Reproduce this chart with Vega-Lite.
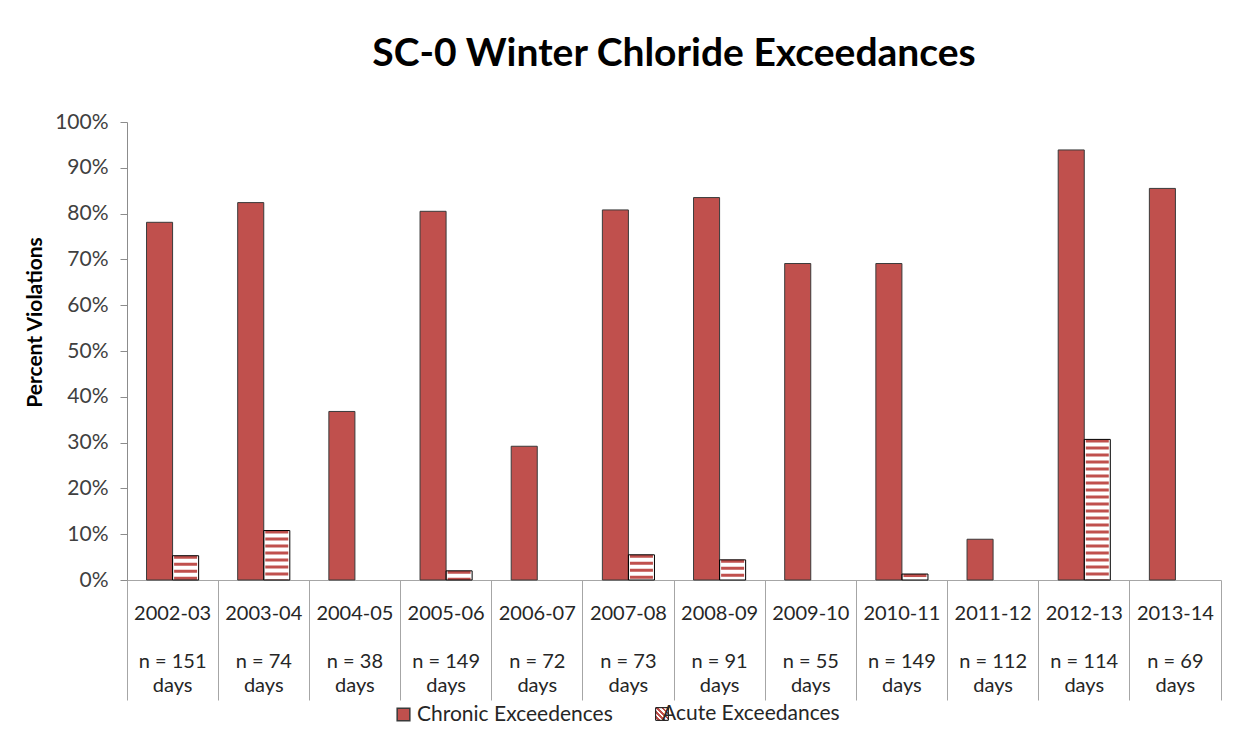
{
  "$schema": "https://vega.github.io/schema/vega-lite/v6.json",
  "width": 1094,
  "height": 458,
  "autosize": {"type": "none"},
  "padding": {"left": 127, "top": 122, "right": 26, "bottom": 167},
  "background": "white",
  "config": {"view": {"stroke": null}, "font": "Lato"},
  "title": {"text": "SC-0 Winter Chloride Exceedances", "font": "Lato", "fontSize": 39, "fontWeight": "bold", "color": "#000000", "anchor": "middle", "offset": 37},
  "data": {
    "values": [
      {"category": "2002-03|\u200b|n = 151|days", "type": "Chronic Exceedences", "value": 0.781},
      {"category": "2002-03|\u200b|n = 151|days", "type": "Acute Exceedances", "value": 0.053},
      {"category": "2003-04|\u200b|n = 74|days", "type": "Chronic Exceedences", "value": 0.824},
      {"category": "2003-04|\u200b|n = 74|days", "type": "Acute Exceedances", "value": 0.108},
      {"category": "2004-05|\u200b|n = 38|days", "type": "Chronic Exceedences", "value": 0.368},
      {"category": "2005-06|\u200b|n = 149|days", "type": "Chronic Exceedences", "value": 0.805},
      {"category": "2005-06|\u200b|n = 149|days", "type": "Acute Exceedances", "value": 0.020},
      {"category": "2006-07|\u200b|n = 72|days", "type": "Chronic Exceedences", "value": 0.292},
      {"category": "2007-08|\u200b|n = 73|days", "type": "Chronic Exceedences", "value": 0.808},
      {"category": "2007-08|\u200b|n = 73|days", "type": "Acute Exceedances", "value": 0.055},
      {"category": "2008-09|\u200b|n = 91|days", "type": "Chronic Exceedences", "value": 0.835},
      {"category": "2008-09|\u200b|n = 91|days", "type": "Acute Exceedances", "value": 0.044},
      {"category": "2009-10|\u200b|n = 55|days", "type": "Chronic Exceedences", "value": 0.691},
      {"category": "2010-11|\u200b|n = 149|days", "type": "Chronic Exceedences", "value": 0.691},
      {"category": "2010-11|\u200b|n = 149|days", "type": "Acute Exceedances", "value": 0.013},
      {"category": "2011-12|\u200b|n = 112|days", "type": "Chronic Exceedences", "value": 0.089},
      {"category": "2012-13|\u200b|n = 114|days", "type": "Chronic Exceedences", "value": 0.939},
      {"category": "2012-13|\u200b|n = 114|days", "type": "Acute Exceedances", "value": 0.307},
      {"category": "2013-14|\u200b|n = 69|days", "type": "Chronic Exceedences", "value": 0.855}
    ]
  },
  "encoding": {
    "x": {
      "field": "category", "type": "nominal", "title": null,
      "scale": {
        "domain": ["2002-03|\u200b|n = 151|days", "2003-04|\u200b|n = 74|days", "2004-05|\u200b|n = 38|days", "2005-06|\u200b|n = 149|days", "2006-07|\u200b|n = 72|days", "2007-08|\u200b|n = 73|days", "2008-09|\u200b|n = 91|days", "2009-10|\u200b|n = 55|days", "2010-11|\u200b|n = 149|days", "2011-12|\u200b|n = 112|days", "2012-13|\u200b|n = 114|days", "2013-14|\u200b|n = 69|days"],
        "paddingInner": 0, "paddingOuter": 0
      },
      "axis": {
        "labelExpr": "split(datum.label, '|')",
        "labelAngle": 0, "labelOverlap": false, "labelLimit": 0,
        "bandPosition": 1, "tickExtra": true,
        "tickSize": 120, "tickColor": "#a6a6a6", "domainColor": "#a6a6a6",
        "labelPadding": -97, "labelBaseline": "top", "labelLineHeight": 24,
        "labelFont": "Lato", "labelFontSize": 20, "labelColor": "#262626"
      }
    },
    "xOffset": {"field": "type", "type": "nominal", "scale": {"domain": ["Chronic Exceedences", "Acute Exceedances"], "paddingInner": 0, "paddingOuter": 0.75}},
    "y": {
      "field": "value", "type": "quantitative", "scale": {"domain": [0, 1]},
      "axis": {
        "title": "Percent Violations",
        "values": [0, 0.1, 0.2, 0.3, 0.4, 0.5, 0.6, 0.7, 0.8, 0.9, 1],
        "format": ".0%", "grid": false,
        "domainColor": "#8c8c8c", "tickColor": "#8c8c8c", "tickSize": 7,
        "labelFont": "Lato", "labelFontSize": 21, "labelColor": "#404040", "labelPadding": 12,
        "titleFont": "Lato", "titleFontSize": 21, "titleFontWeight": "bold", "titleColor": "#000000",
        "titleX": -92, "titleY": 200, "titleAngle": -90, "titleBaseline": "middle", "titleAlign": "center"
      }
    }
  },
  "layer": [
    {
      "transform": [{"filter": "datum.type === 'Acute Exceedances'"}],
      "mark": {"type": "rule", "color": "#C0504D", "strokeWidth": 23, "strokeDash": [3, 4]},
      "encoding": {
        "y2": {"datum": 0}
      }
    },
    {
      "transform": [{"filter": "datum.type === 'Chronic Exceedences'"}],
      "mark": {"type": "bar"},
      "encoding": {
        "fill": {"value": "#C0504D"},
        "strokeWidth": {"value": 1},
        "stroke": {
          "field": "type", "type": "nominal",
          "scale": {"domain": ["Chronic Exceedences"], "range": ["#3a3a3a"]},
          "legend": {
            "orient": "none", "legendX": 266, "legendY": 582, "title": null,
            "symbolType": "square", "symbolSize": 160, "labelFont": "Lato", "labelFontSize": 21,
            "labelColor": "#262626", "labelOffset": 3, "labelLimit": 400, "symbolOpacity": 1
          }
        }
      }
    },
    {
      "transform": [{"filter": "datum.type === 'Acute Exceedances'"}],
      "mark": {"type": "bar"},
      "encoding": {
        "fill": {
          "condition": {"test": "true", "value": "transparent"},
          "value": {"gradient": "linear", "x1": 0, "y1": 1, "x2": 1, "y2": 0, "stops": [
            {"offset": 0, "color": "#ffffff"}, {"offset": 0.1, "color": "#ffffff"}, {"offset": 0.1, "color": "#C0504D"}, {"offset": 0.2, "color": "#C0504D"},
            {"offset": 0.2, "color": "#ffffff"}, {"offset": 0.3, "color": "#ffffff"}, {"offset": 0.3, "color": "#C0504D"}, {"offset": 0.4, "color": "#C0504D"},
            {"offset": 0.4, "color": "#ffffff"}, {"offset": 0.5, "color": "#ffffff"}, {"offset": 0.5, "color": "#C0504D"}, {"offset": 0.6, "color": "#C0504D"},
            {"offset": 0.6, "color": "#ffffff"}, {"offset": 0.7, "color": "#ffffff"}, {"offset": 0.7, "color": "#C0504D"}, {"offset": 0.8, "color": "#C0504D"},
            {"offset": 0.8, "color": "#ffffff"}, {"offset": 0.9, "color": "#ffffff"}, {"offset": 0.9, "color": "#C0504D"}, {"offset": 1, "color": "#C0504D"}
          ]}
        },
        "stroke": {"value": "#000000"},
        "strokeWidth": {
          "field": "type", "type": "nominal",
          "scale": {"domain": ["Acute Exceedances"], "range": [2]},
          "legend": {
            "orient": "none", "legendX": 535, "legendY": 592, "title": null,
            "symbolType": "square", "symbolSize": 160, "labelFont": "Lato", "labelFontSize": 21,
            "labelColor": "#262626", "labelOffset": 3, "labelLimit": 400, "symbolOpacity": 1
          }
        }
      }
    }
  ]
}
